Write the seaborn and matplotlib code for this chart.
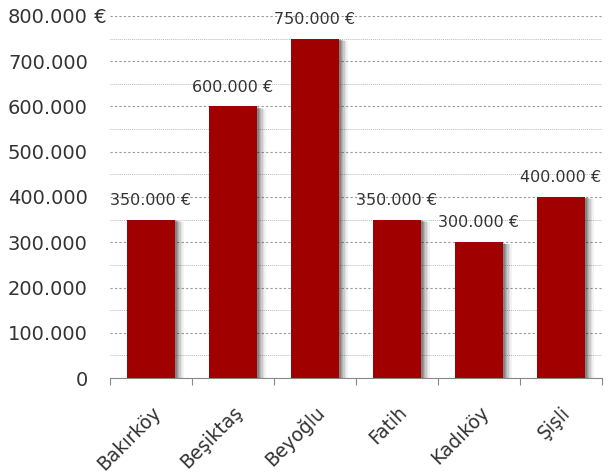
import matplotlib
matplotlib.use("Agg")
import matplotlib.pyplot as plt
import matplotlib.patheffects as pe
from matplotlib.ticker import MultipleLocator, FixedLocator
import seaborn as sns
import pandas as pd

districts = ["Bakırköy", "Beşiktaş", "Beyoğlu", "Fatih", "Kadıköy", "Şişli"]
prices = [350000, 600000, 750000, 350000, 300000, 400000]
y_ticks = [0, 100000, 200000, 300000, 400000, 500000, 600000, 700000, 800000]

def fmt(v):
    return f"{v:,.0f}".replace(",", ".")

sns.set_theme(style="white")
plt.rcParams['font.family'] = ['DejaVu Sans']

df = pd.DataFrame({"district": districts, "price": prices})

fig = plt.figure(figsize=(6.1, 4.74), dpi=100)
ax = fig.add_axes([110/610, 1 - 378/474, (602 - 110)/610, (378 - 16)/474])

sns.barplot(data=df, x="district", y="price", color="#A00000", saturation=1,
            width=0.59, ax=ax, zorder=3, edgecolor="none", linewidth=0)

shadow = [pe.SimplePatchShadow(offset=(6, -1.5), shadow_rgbFace="#000000", alpha=0.05),
          pe.SimplePatchShadow(offset=(5, -1.5), shadow_rgbFace="#000000", alpha=0.07),
          pe.SimplePatchShadow(offset=(4, -1), shadow_rgbFace="#000000", alpha=0.09),
          pe.SimplePatchShadow(offset=(3, -1), shadow_rgbFace="#000000", alpha=0.11),
          pe.SimplePatchShadow(offset=(2, -1), shadow_rgbFace="#000000", alpha=0.13),
          pe.SimplePatchShadow(offset=(1, -0.5), shadow_rgbFace="#000000", alpha=0.15),
          pe.Normal()]
for p in ax.patches:
    p.set_path_effects(shadow)

ax.set_xlim(-0.5, len(districts) - 0.5)
ax.set_ylim(0, 800000)
ax.set_xlabel("")
ax.set_ylabel("")

# y axis
labels = [fmt(v) for v in y_ticks]
ax.set_yticks(y_ticks)
ax.set_yticklabels(labels)
ax.yaxis.set_minor_locator(MultipleLocator(50000))
ax.tick_params(axis="y", which="both", length=0, pad=16, labelsize=14, labelcolor="#333333")
ax.grid(axis="y", which="major", linestyle=(0, (2, 2)), linewidth=0.8, color="#999999", zorder=0)
ax.grid(axis="y", which="minor", linestyle=(0, (1, 1)), linewidth=0.7, color="#BBBBBB", zorder=0)
ax.set_axisbelow(True)

# top label euro sign
fig.canvas.draw()
top_label = ax.get_yticklabels()[-1]
ax.annotate(" €", xy=(1, 0.5), xycoords=top_label, va="center", ha="left",
            fontsize=14, color="#333333", annotation_clip=False)

# x axis
ax.set_xticks(range(len(districts)))
ax.set_xticklabels(districts, rotation=45, ha="right", va="top",
                   rotation_mode="anchor", fontsize=13.5, color="#333333")
ax.xaxis.set_minor_locator(FixedLocator([i - 0.5 for i in range(len(districts) + 1)]))
ax.tick_params(axis="x", which="major", length=0, pad=18)
ax.tick_params(axis="x", which="minor", length=5, width=0.8, color="#888888", bottom=True)

for s in ["left", "top", "right"]:
    ax.spines[s].set_visible(False)
ax.spines["bottom"].set_color("#888888")
ax.spines["bottom"].set_linewidth(0.8)

# value labels
for i, v in enumerate(prices):
    ax.annotate(fmt(v) + " €", xy=(i, v), xytext=(0, 8.5), textcoords="offset points",
                ha="center", va="bottom", fontsize=11.5, color="#333333")

fig.savefig("out.png", dpi=100)
